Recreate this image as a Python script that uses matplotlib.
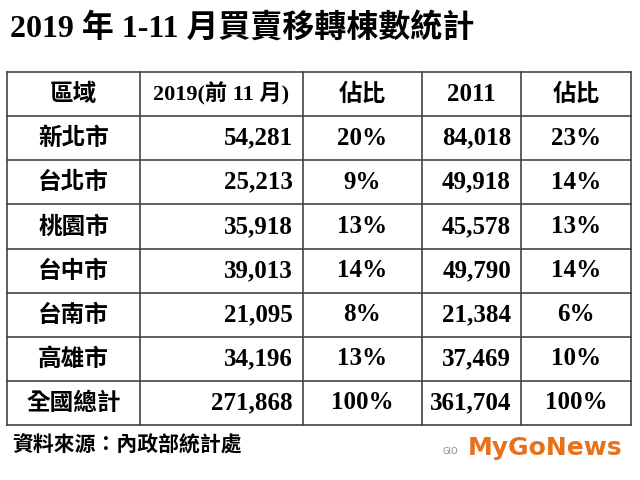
import matplotlib
matplotlib.use("Agg")
import matplotlib.pyplot as plt

title = "2019 年 1-11 月買賣移轉棟數統計"
headers = ["區域", "2019(前 11 月)", "佔比", "2011", "佔比"]
regions = ["新北市", "台北市", "桃園市", "台中市", "台南市", "高雄市", "全國總計"]
v2019 = ["54,281", "25,213", "35,918", "39,013", "21,095", "34,196", "271,868"]
p2019 = ["20%", "9%", "13%", "14%", "8%", "13%", "100%"]
v2011 = ["84,018", "49,918", "45,578", "49,790", "21,384", "37,469", "361,704"]
p2011 = ["23%", "14%", "13%", "14%", "6%", "10%", "100%"]
source = "資料來源：內政部統計處"

fam = ["Liberation Serif", "Noto Sans CJK TC"]
cjk = ["Noto Sans CJK TC", "DejaVu Sans"]

fig = plt.figure(figsize=(6.4, 4.8), dpi=100)
ax = fig.add_axes([0, 0, 1, 1])
ax.set_xlim(0, 640); ax.set_ylim(480, 0); ax.axis("off")

ax.text(10, 28, title, fontsize=23, fontweight="bold", family=fam, va="center", ha="left")

xs = [7, 140, 303, 422, 521, 631]
top, bot = 72, 425
n = len(regions) + 1
h = (bot - top) / n
for x in xs:
    ax.plot([x, x], [top, bot], color="#444", lw=1.2)
for i in range(n + 1):
    ax.plot([xs[0], xs[-1]], [top + i * h] * 2, color="#444", lw=1.2)

def cell(col, row, s, align="center", chinese=False, size=None):
    y = top + (row + 0.5) * h
    if align == "right":
        x, ha = xs[col + 1] - 10, "right"
    else:
        x, ha = (xs[col] + xs[col + 1]) / 2, "center"
    ax.text(x, y, s, ha=ha, va="center", fontsize=size or (17 if chinese else 18),
            fontweight="bold", family=cjk if chinese else fam)

cell(0, 0, headers[0], chinese=True)
cell(1, 0, headers[1], size=16)
cell(2, 0, headers[2], chinese=True)
cell(3, 0, headers[3])
cell(4, 0, headers[4], chinese=True)
for r in range(len(regions)):
    cell(0, r + 1, regions[r], chinese=True)
    cell(1, r + 1, v2019[r], align="right")
    cell(2, r + 1, p2019[r])
    cell(3, r + 1, v2011[r], align="right")
    cell(4, r + 1, p2011[r])

ax.text(12, 444, source, fontsize=15, fontweight="bold", family=cjk, va="center")
ax.text(468, 448, "MyGoNews", fontsize=18, fontweight="bold", family=["DejaVu Sans"],
        color="#e8711c", va="center")
ax.text(450, 452, "GIO", fontsize=6, color="#888", ha="center", va="center")

fig.savefig("out.png", dpi=100)
